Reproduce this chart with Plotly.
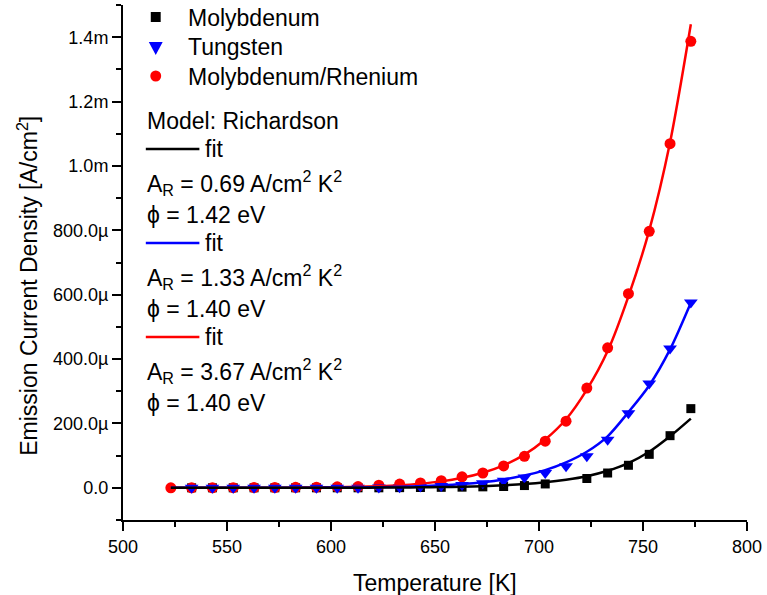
import plotly.graph_objects as go

# ---------------- data ----------------
temperature = [523, 533, 543, 553, 563, 573, 583, 593, 603, 613, 623, 633, 643,
               653, 663, 673, 683, 693, 703, 713, 723, 733, 743, 753, 763, 773]

molybdenum = [None, 0, 0, 0, 0, 0, 0, 0, 0, 0, 0, 0.5e-6, 1e-6,
              1.5e-6, 2e-6, 3e-6, 4e-6, 7e-6, 12e-6, None, 29e-6, 46e-6, 70e-6, 104e-6, 162e-6, 246e-6]

tungsten = [None, 0, 0, 0, 0, 0, 0, 0, 0, 0, 1e-6, 2e-6, 4e-6,
            6e-6, 9e-6, 14e-6, 22e-6, 32e-6, 46e-6, 67e-6, 98e-6, 149e-6, 232e-6, 324e-6, 433e-6, 576e-6]

mo_re = [0, 0, 0, 0.5e-6, 0.8e-6, 1e-6, 1.5e-6, 2e-6, 3e-6, 4e-6, 8e-6, 11.5e-6, 15e-6,
         22e-6, 34e-6, 46e-6, 68e-6, 98e-6, 145e-6, 207e-6, 310e-6, 435e-6, 603e-6, 797e-6, 1069e-6, 1387e-6]

fit_molybdenum = [0, 0, 0, 0, 0, 0, 0, 0.1e-6, 0.2e-6, 0.4e-6, 0.6e-6, 0.9e-6, 1.4e-6,
                  2.2e-6, 3.4e-6, 5.2e-6, 7.8e-6, 11.5e-6, 17e-6, 25e-6, 36e-6, 53e-6, 77e-6, 112e-6, 160e-6, 215e-6]

fit_tungsten = [0, 0, 0, 0, 0.1e-6, 0.2e-6, 0.3e-6, 0.5e-6, 0.8e-6, 1.3e-6, 2e-6, 3.2e-6, 5e-6,
                7.7e-6, 11.7e-6, 17.5e-6, 26e-6, 38e-6, 55e-6, 79e-6, 112e-6, 160e-6, 235e-6, 318e-6, 430e-6, 575e-6]

fit_mo_re = [0, 0, 0, 0, 0.2e-6, 0.4e-6, 0.6e-6, 1e-6, 2e-6, 3e-6, 5e-6, 8e-6, 13e-6,
             20e-6, 31e-6, 47e-6, 70e-6, 103e-6, 150e-6, 213e-6, 305e-6, 425e-6, 595e-6, 800e-6, 1073e-6, 1440e-6]

y_tick_vals = [0, 200e-6, 400e-6, 600e-6, 800e-6, 1.0e-3, 1.2e-3, 1.4e-3]
y_tick_text = ["0.0", "200.0\u00b5", "400.0\u00b5", "600.0\u00b5", "800.0\u00b5", "1.0m", "1.2m", "1.4m"]
y_minor_vals = [-100e-6, 100e-6, 300e-6, 500e-6, 700e-6, 900e-6, 1.1e-3, 1.3e-3, 1.5e-3]

series_names = ["Molybdenum", "Tungsten", "Molybdenum/Rhenium"]
fit_params = [("0.69", "1.42"), ("1.33", "1.40"), ("3.67", "1.40")]

# ---------------- styling ----------------
FONT = "Arial, Liberation Sans, Helvetica, sans-serif"
W, H = 767, 595
L, R, T, B = 123, 752, 5, 520     # plot area in page pixels
BLACK, BLUE, RED = "#000000", "#0000FF", "#FF0000"


def px(x):
    return (x - L) / (R - L)


def py(y):
    return (B - y) / (B - T)


fig = go.Figure()

fig.add_trace(go.Scatter(x=temperature, y=molybdenum, mode="markers", name=series_names[0],
                         marker=dict(symbol="square", size=9, color=BLACK), showlegend=False))
fig.add_trace(go.Scatter(x=temperature, y=mo_re, mode="markers", name=series_names[2],
                         marker=dict(symbol="circle", size=11, color=RED), showlegend=False))
fig.add_trace(go.Scatter(x=temperature, y=tungsten, mode="markers", name=series_names[1],
                         marker=dict(symbol="triangle-down", size=12, color=BLUE), showlegend=False))

for ys, col in [(fit_mo_re, RED), (fit_tungsten, BLUE), (fit_molybdenum, BLACK)]:
    fig.add_trace(go.Scatter(x=temperature, y=ys, mode="lines",
                             line=dict(color=col, width=2.5, shape="spline", smoothing=0.8),
                             showlegend=False, hoverinfo="skip"))

annotations = []
shapes = []

# legend markers
s = 5
shapes.append(dict(type="rect", xref="paper", yref="paper",
                   x0=px(156 - s), x1=px(156 + s), y0=py(17 + s), y1=py(17 - s),
                   fillcolor=BLACK, line=dict(width=0)))
tx, ty = 156, 48
shapes.append(dict(type="path", xref="paper", yref="paper",
                   path=f"M {px(tx-7)},{py(ty-6)} L {px(tx+7)},{py(ty-6)} L {px(tx)},{py(ty+7)} Z",
                   fillcolor=BLUE, line=dict(width=0)))
shapes.append(dict(type="circle", xref="paper", yref="paper",
                   x0=px(156 - 5.5), x1=px(156 + 5.5), y0=py(76 + 5.5), y1=py(76 - 5.5),
                   fillcolor=RED, line=dict(width=0)))

for name, yy in zip(series_names, [18, 47, 77]):
    annotations.append(dict(text=name, x=px(187), y=py(yy), xref="paper", yref="paper",
                            xanchor="left", yanchor="middle", showarrow=False,
                            font=dict(family=FONT, size=23, color="black")))

annotations.append(dict(text="Model: Richardson", x=px(145), y=py(121), xref="paper", yref="paper",
                        xanchor="left", yanchor="middle", showarrow=False,
                        font=dict(family=FONT, size=23, color="black")))

block_y = [149, 243, 337]
for (a, phi), col, y0 in zip(fit_params, [BLACK, BLUE, RED], block_y):
    shapes.append(dict(type="line", xref="paper", yref="paper",
                       x0=px(146), x1=px(200), y0=py(y0), y1=py(y0),
                       line=dict(color=col, width=2.5)))
    annotations.append(dict(text="fit", x=px(204), y=py(y0), xref="paper", yref="paper",
                            xanchor="left", yanchor="middle", showarrow=False,
                            font=dict(family=FONT, size=23, color="black")))
    annotations.append(dict(text=f"A<sub>R</sub> = {a} A/cm<sup>2</sup> K<sup>2</sup>",
                            x=px(145), y=py(y0 + 34), xref="paper", yref="paper",
                            xanchor="left", yanchor="middle", showarrow=False,
                            font=dict(family=FONT, size=23, color="black")))
    annotations.append(dict(text=f"\u03d5 = {phi} eV",
                            x=px(145), y=py(y0 + 66), xref="paper", yref="paper",
                            xanchor="left", yanchor="middle", showarrow=False,
                            font=dict(family=FONT, size=23, color="black")))

# axis titles
annotations.append(dict(text="Emission Current Density [A/cm<sup>2</sup>]", x=px(27), y=py(286),
                        xref="paper", yref="paper", xanchor="center", yanchor="middle",
                        textangle=-90, showarrow=False,
                        font=dict(family=FONT, size=23, color="black")))
annotations.append(dict(text="Temperature [K]", x=px(438), y=py(583),
                        xref="paper", yref="paper", xanchor="center", yanchor="middle",
                        showarrow=False, font=dict(family=FONT, size=23, color="black")))

fig.update_layout(
    width=W, height=H,
    margin=dict(l=L, r=W - R, t=T, b=H - B, pad=0),
    paper_bgcolor="white", plot_bgcolor="white",
    showlegend=False,
    annotations=annotations,
    shapes=shapes,
    font=dict(family=FONT, size=18, color="black"),
)

fig.update_xaxes(range=[500, 800], dtick=50, tick0=500, showgrid=False, zeroline=False,
                 showline=True, linecolor="black", linewidth=2, mirror=False,
                 ticks="outside", ticklen=9, tickwidth=2, tickcolor="black",
                 ticklabeloverflow="allow",
                 tickfont=dict(family=FONT, size=18, color="black"),
                 minor=dict(dtick=25, ticks="outside", ticklen=5, tickwidth=2, tickcolor="black"))

fig.update_yaxes(range=[-100e-6, 1.5e-3], tickvals=y_tick_vals, ticktext=y_tick_text,
                 showgrid=False, zeroline=False,
                 showline=True, linecolor="black", linewidth=2, mirror=False,
                 ticks="outside", ticklen=9, tickwidth=2, tickcolor="black",
                 ticklabeloverflow="allow",
                 tickfont=dict(family=FONT, size=18, color="black"),
                 minor=dict(tickvals=y_minor_vals,
                            ticks="outside", ticklen=5, tickwidth=2, tickcolor="black"))

# remove the default page margin so the figure sits at the window's top-left corner
fig.write_html("out.html",
               config={"displayModeBar": False},
               post_script="document.body.style.margin='0';document.body.style.padding='0';"
                           "document.body.style.overflow='hidden';")
